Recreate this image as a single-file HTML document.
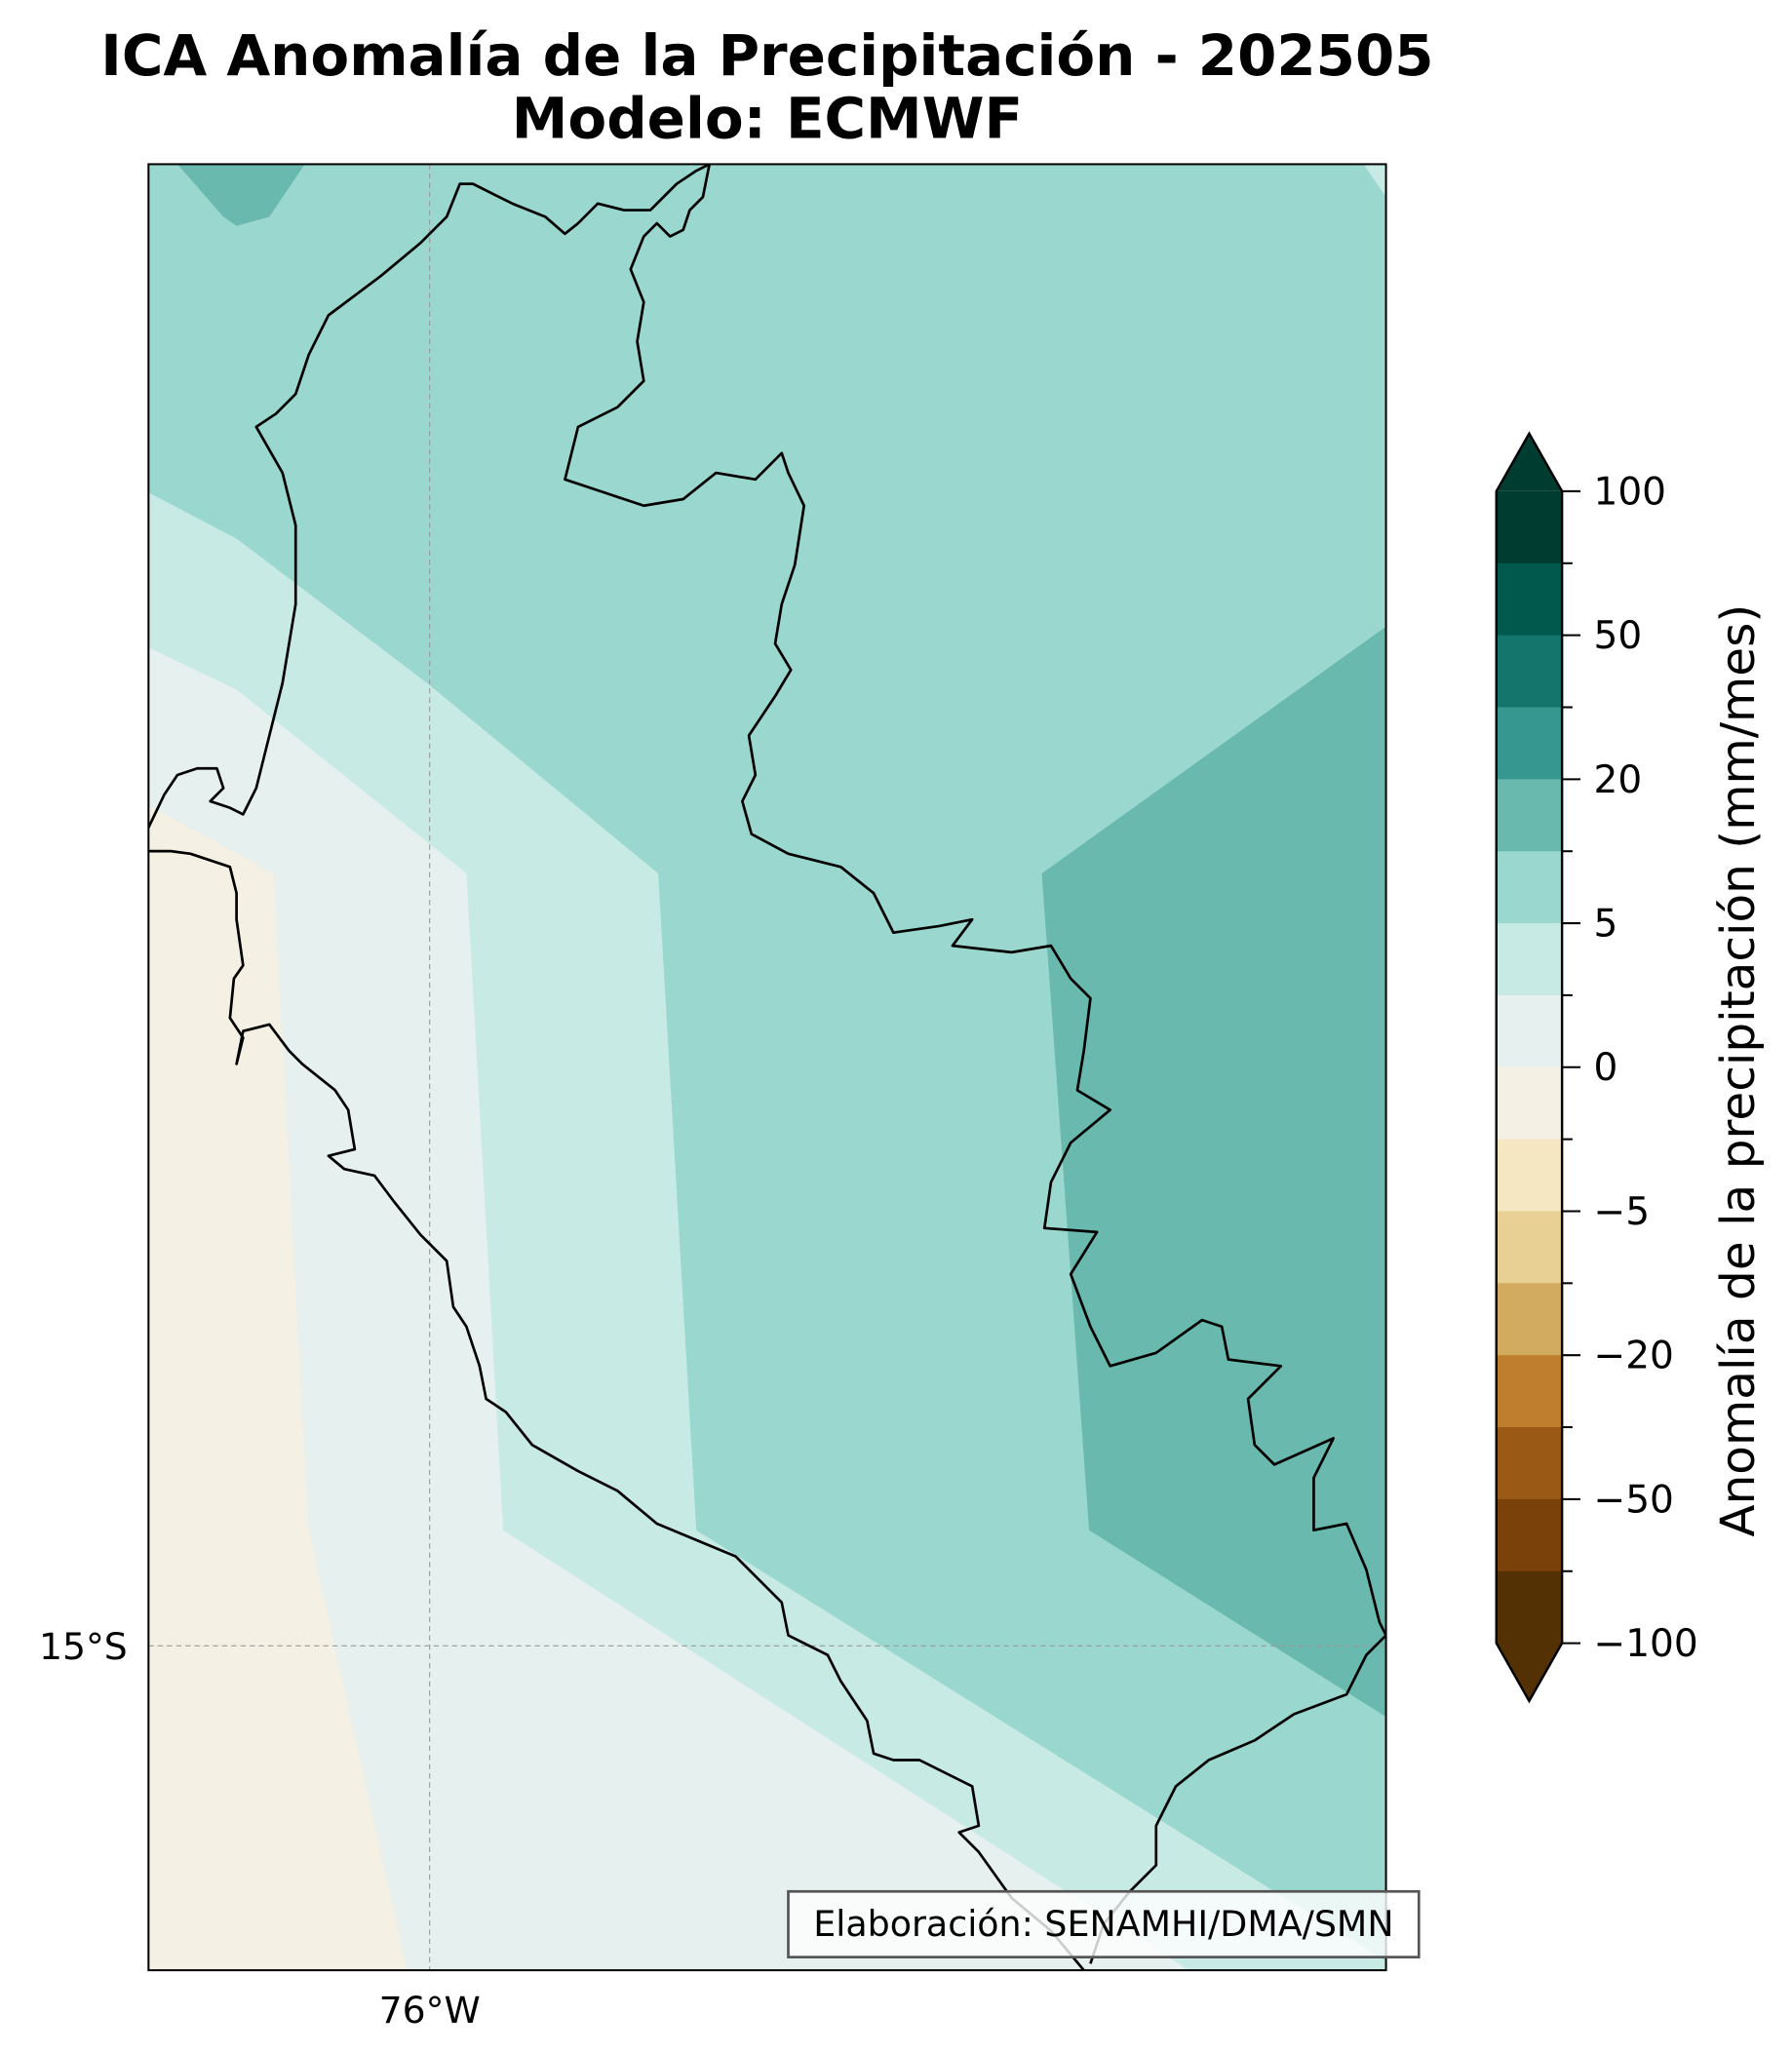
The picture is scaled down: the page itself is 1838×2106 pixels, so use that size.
<!DOCTYPE html>
<html><head><meta charset="utf-8"><style>
html,body{margin:0;padding:0;background:#fff;}
svg{display:block;font-family:"DejaVu Sans","Liberation Sans",sans-serif;}
</style></head><body>
<svg id="fig" width="1838" height="2106" viewBox="0 0 1364 1563" xmlns="http://www.w3.org/2000/svg">
<rect width="1364" height="1563" fill="#fff"/>
<text x="584" y="57" font-size="43" font-weight="bold" text-anchor="middle">ICA Anomalía de la Precipitación - 202505</text>
<text x="584" y="105" font-size="43" font-weight="bold" text-anchor="middle">Modelo: ECMWF</text>
<defs><clipPath id="mapclip"><rect x="113" y="125" width="942" height="1375"/></clipPath></defs>
<g clip-path="url(#mapclip)">
<rect x="113" y="125" width="942" height="1375" fill="#9ad7ce"/>
<polygon fill="#c7eae5" points="113,375 180,410 325,520 501,665 530,1165 1055,1493 1055,1500 113,1500"/>
<polygon fill="#e6f0ee" points="113,493 180,525 355,665 383,1165 905,1500 113,1500"/>
<polygon fill="#f4f0e4" points="113,613 208,665 235,1165 310,1500 113,1500"/>
<polygon fill="#69b9af" points="135,125 232,125 205,165 180,172 170,165"/>
<polygon fill="#c7eae5" points="1038,125 1055,125 1055,150"/>
<polygon fill="#69b9af" points="1055,477 793,665 829,1165 1055,1307"/>
<line x1="327" y1="125" x2="327" y2="1500" stroke="#999" stroke-width="0.8" stroke-dasharray="4,3"/>
<line x1="113" y1="1253" x2="1055" y2="1253" stroke="#999" stroke-width="0.8" stroke-dasharray="4,3"/>
<polyline fill="none" stroke="#000" stroke-width="2" stroke-linejoin="round" points="113,630 125,605 135,590 150,585 165,585 170,600 160,610 175,615 185,620 195,600 205,560 215,520 225,460 225,400 215,360 195,325 210,315 225,300 235,270 250,240 290,210 320,185 340,165 350,140 360,140 390,155 415,165 430,178 440,170 455,155 475,160 495,160 505,150 515,140 530,130 540,125 535,150 525,160 520,175 510,180 500,170 490,180 480,205 490,230 485,260 490,290 470,310 440,325 430,365 460,375 490,385 520,380 545,360 575,365 595,345 600,360 612,385 605,430 595,460 590,490 602,510 590,530 570,560 575,590 565,610 572,635 600,650 640,660 665,680 680,710 715,705 740,700 725,720 770,725 800,720 815,745 830,760 825,800 820,830 845,845 815,870 800,900 795,935 835,938 815,970 830,1010 845,1040 880,1030 915,1005 930,1010 935,1035 975,1040 950,1065 955,1100 970,1115 1015,1095 1000,1125 1000,1165 1025,1160 1040,1195 1050,1235 1055,1245 1040,1260 1025,1290 985,1305 955,1325 920,1340 895,1360 880,1390 880,1420 860,1440 840,1465 830,1495"/>
<polyline fill="none" stroke="#000" stroke-width="2" stroke-linejoin="round" points="825,1500 800,1470 770,1445 745,1410 730,1395 745,1390 740,1360 700,1340 680,1340 665,1335 660,1310 640,1280 630,1260 600,1245 595,1220 560,1185 500,1160 470,1135 440,1120 405,1100 385,1075 370,1065 365,1040 355,1010 345,995 340,960 320,940 300,915 285,895 262,890 250,880 270,875 265,845 255,830 230,810 220,800 205,780 185,785 180,810 185,790 175,775 178,745 185,735 180,700 180,680 175,660 160,655 145,650 130,648 113,648"/>
</g>
<rect x="113" y="125" width="942" height="1375" fill="none" stroke="#000" stroke-width="1.5"/>
<text x="97" y="1263" font-size="28" text-anchor="end">15°S</text>
<text x="327" y="1540" font-size="28" text-anchor="middle">76°W</text>
<g>
<rect x="600" y="1440" width="480" height="50" fill="#fff" fill-opacity="0.8" stroke="#555" stroke-width="2"/>
<text x="840" y="1474" font-size="27" text-anchor="middle">Elaboración: SENAMHI/DMA/SMN</text>
</g>
<g id="cbar"></g>
<text transform="translate(1335,815) rotate(-90)" font-size="36" text-anchor="middle">Anomalía de la precipitación (mm/mes)</text>
</svg>
<script>
const bandColors = ["#003c30","#01594e","#14756c","#35978f","#69b9af","#9ad7ce","#c7eae5","#e6f0ee","#f4f0e4","#f6e7c3","#e8cf94","#d3ab60","#be7e2e","#9a5a15","#7a410a","#543005"];
const tickLabels = ["100","50","20","5","0","\u22125","\u221220","\u221250","\u2212100"];
const overColor = "#003c30";
const underColor = "#543005";
(function(){
  const ns="http://www.w3.org/2000/svg";
  const g=document.getElementById('cbar');
  const x0=1139,x1=1189,top=374,bot=1251,tipT=330,tipB=1295;
  const n=bandColors.length, h=(bot-top)/n;
  function mk(tag,attrs){const e=document.createElementNS(ns,tag);for(const k in attrs)e.setAttribute(k,attrs[k]);g.appendChild(e);return e;}
  const up=mk('polygon',{points:`${x0},${top} ${(x0+x1)/2},${tipT} ${x1},${top}`,fill:overColor});
  
  
  const dn=mk('polygon',{points:`${x0},${bot} ${(x0+x1)/2},${tipB} ${x1},${bot}`,fill:underColor});
  
  
  bandColors.forEach((c,i)=>{
    const r=mk('rect',{x:x0,y:top+i*h,width:x1-x0,height:h+0.5,fill:c});
    
    
  });
  const o=mk('polygon',{points:`${x0},${top} ${(x0+x1)/2},${tipT} ${x1},${top} ${x1},${bot} ${(x0+x1)/2},${tipB} ${x0},${bot}`,fill:'none',stroke:'#000','stroke-width':1.8});
  
  
  for(let i=0;i<=n;i++){
    const y=top+i*h, major=i%2===0;
    const t=mk('line',{x1:x1,y1:y,x2:x1+(major?14:8),y2:y,stroke:'#000','stroke-width':1.5});
    
    
    if(major){
      const tx=mk('text',{x:x1+24,y:y+10,'font-size':29});
      tx.textContent=tickLabels[i/2];
      
      
    }
  }
})();
</script>
</body></html>
